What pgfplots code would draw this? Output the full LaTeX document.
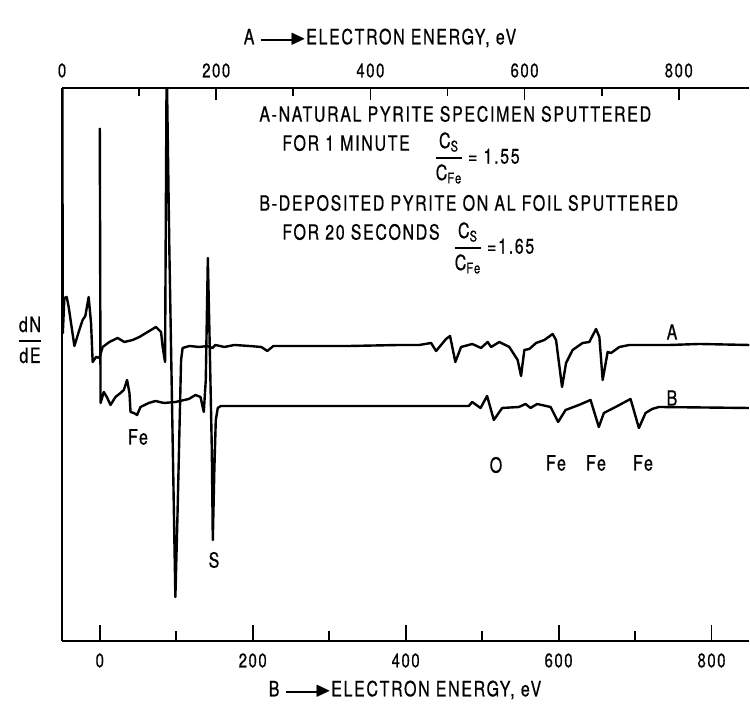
\documentclass[border=0pt]{standalone}
\usepackage{pgfplots}
\pgfplotsset{compat=1.18}
\usepackage{amssymb}
\usepackage{fontspec}
\setmainfont{TeX Gyre Heros}[FakeStretch=0.76, LetterSpace=8, FakeBold=0.6]
\newcommand{\fs}{\fontsize{10.5}{12.6}\selectfont}
\newcommand{\ft}{\fontsize{9.8}{11.8}\selectfont}
\newcommand{\arr}{\raisebox{0.33ex}{\rule{1.7em}{0.9pt}}\kern-0.3em$\blacktriangleright$}
\newcommand{\rat}[2]{$\displaystyle{\mbox{#1}\above 0.9pt \mbox{#2}}$}

\pgfplotstableread{
E y
0.3 560
1.0 308
3.0 343
6.0 344
8.6 334
16.0 295
22.4 311
26.7 321
30.2 325
34.5 344
37.6 318
39.7 279
44.1 284
48.4 283
52.7 294
61.4 299
72.1 303
80.8 299
91.6 301
100.3 304
113.2 310
121.9 314
128.4 309
130.5 294
133.6 279
135.7 581
139.2 391
147.0 44
149.6 121
154.4 281
156.4 293
165.1 295
178.1 294
188.5 295
195.0 293
198.9 296
210.6 294
223.5 296
243.0 295
258.5 294
266.3 290
274.1 295
307.8 295
372.7 295
437.5 296
463.5 296
478.7 298
485.2 290
498.1 302
503.3 305
510.2 279
517.6 294
532.2 297
543.5 293
552.1 299
556.5 294
567.3 299
580.2 294
591.0 281
595.4 265
599.7 291
606.2 292
614.9 298
625.7 301
636.4 307
640.8 301
648.6 254
653.8 278
662.3 291
675.3 298
684.0 299
692.7 312
697.0 304
701.3 261
707.8 289
712.2 288
722.9 294
735.9 296
787.8 296
826.7 297
891.6 296
}\curveA

\pgfplotstableread{
E y
0.0 513
1.0 238
5.2 249
9.2 244
14.0 236
20.5 244
27.1 248
31.4 251
35.7 261
38.8 248
40.2 229
44.5 228
48.8 226
53.2 234
64.1 238
72.8 240
83.7 238
99.0 239
116.4 242
125.2 246
131.7 244
136.0 229
138.6 261
141.3 383
143.9 291
146.5 191
147.8 101
149.8 171
151.7 221
154.3 233
158.3 235
194.9 235
300.0 235
417.2 235
482.6 235
486.9 239
497.9 233
506.5 245
515.3 221
526.2 233
548.0 234
556.8 237
563.3 233
571.9 237
589.5 234
599.4 219
609.1 231
626.5 236
641.8 241
652.6 214
659.2 228
674.5 234
694.1 242
705.0 213
713.7 228
722.3 232
731.1 234
848.8 233
}\curveB

\begin{document}
\begin{tikzpicture}[x=0.5pt,y=0.5pt, every node/.style={font=\fs, inner sep=0pt}]
\path[use as bounding box] (0,0) rectangle (750,704);

% bottom axis: B energy
\begin{axis}[
  at={(80.5,63)}, anchor=south west,
  width=343.65pt, height=276.5pt, scale only axis,
  xmin=-50, xmax=848.8, ymin=0, ymax=553,
  axis x line*=bottom, axis y line*=left,
  axis line style={line width=1pt},
  xtick={0,200,...,800}, minor xtick={100,300,500,700},
  tick align=inside, major tick length=8pt, minor tick length=5pt,
  every tick/.style={line width=0.9pt, black},
  ytick=\empty,
  xticklabel style={font=\ft, inner sep=0pt, yshift=-6pt},
  /pgf/number format/assume math mode=true,
]
\addplot[line width=1.2pt, line join=round, no markers] table[x=E,y=y] {\curveB};
\end{axis}

% top axis: A energy
\begin{axis}[
  at={(80.5,63)}, anchor=south west,
  width=343.65pt, height=276.5pt, scale only axis,
  xmin=0, xmax=891.6, ymin=0, ymax=553,
  axis x line*=top, hide y axis,
  axis line style={line width=1pt},
  xtick={0,200,...,800}, minor xtick={100,300,500,700},
  tick align=inside, major tick length=6pt, minor tick length=4pt,
  every tick/.style={line width=0.9pt, black},
  xticklabel style={font=\ft, inner sep=0pt, yshift=5pt},
  /pgf/number format/assume math mode=true,
]
\addplot[line width=1.2pt, line join=round, no markers] table[x=E,y=y] {\curveA};
\end{axis}

% axis titles
\node at (380,{704-38}) {A \arr ELECTRON ENERGY, eV};
\node at (405,{704-690}) {B \arr ELECTRON ENERGY, eV};
\node at (30,{704-340}) {\rat{dN}{dE}};

% legend text
\node[anchor=west] at (259,{704-114}) {A-NATURAL PYRITE SPECIMEN SPUTTERED};
\node[anchor=west] at (282,{704-143}) {FOR 1 MINUTE};
\node[anchor=west] at (433,{704-158}) {\rat{C\textsubscript{S}}{C\textsubscript{Fe}}\,= 1.55};
\node[anchor=west] at (259,{704-203}) {B-DEPOSITED PYRITE ON AL FOIL SPUTTERED};
\node[anchor=west] at (282,{704-232}) {FOR 20 SECONDS};
\node[anchor=west] at (452,{704-248}) {\rat{C\textsubscript{S}}{C\textsubscript{Fe}}\,=1.65};

% curve and peak labels
\node at (672,{704-332}) {A};
\node at (672,{704-398}) {B};
\node at (138,{704-437}) {Fe};
\node at (214,{704-560}) {S};
\node at (496,{704-465}) {O};
\node at (556,{704-463}) {Fe};
\node at (596,{704-463}) {Fe};
\node at (643,{704-463}) {Fe};
\end{tikzpicture}
\end{document}
